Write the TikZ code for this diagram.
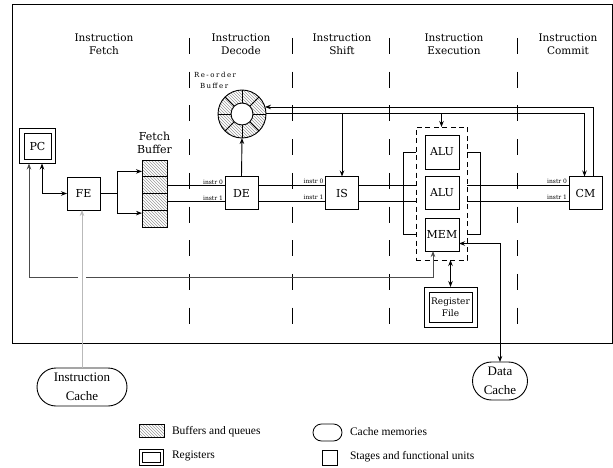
\documentclass[tikz,border=0pt]{standalone}
\usepackage{fontspec}
\setmainfont{DejaVu Serif}
\newfontfamily\legfont{Liberation Serif}
\newfontfamily\robfont[LetterSpace=22]{DejaVu Serif}
\usetikzlibrary{arrows.meta,patterns,shapes.misc,fit,calc}
\begin{document}
\begin{tikzpicture}[x=1pt,y=-1pt,
  every node/.style={inner sep=0pt, outer sep=0pt},
  box/.style={draw, line width=0.9pt, minimum width=33pt, minimum height=33pt, font=\fontsize{11}{13}\selectfont},
  ln/.style={line width=0.9pt},
  arr/.style={ln, -{Stealth[length=6pt,width=4.5pt]}},
  arrb/.style={ln, {Stealth[length=6pt,width=4.5pt]}-{Stealth[length=6pt,width=4.5pt]}},
  stage/.style={font=\fontsize{10.5}{13}\selectfont, align=center},
  sepline/.style={line width=1pt, dash pattern=on 16pt off 17.7pt},
  lbl/.style={font=\fontsize{6}{7}\selectfont, anchor=south east},
  hatch/.style={pattern=north west lines, pattern color=black!40},
  cache/.style={draw, rounded rectangle, line width=0.9pt, font=\legfont\fontsize{13}{19}\selectfont, align=center},
  legtext/.style={anchor=west, font=\legfont\fontsize{11.5}{13}\selectfont},
]
\useasboundingbox (0,0) rectangle (613,468);
\draw[line width=1pt] (12,4.5) rectangle (612.5,343);

% stage titles
\node[stage] (tf) at (104,44.5) {Instruction\\Fetch};
\node[stage] (td) at (241,44.5) {Instruction\\Decode};
\node[stage] (ts) at (342,44.5) {Instruction\\Shift};
\node[stage] (te) at (454,44.5) {Instruction\\Execution};
\node[stage] (tc) at (568,44.5) {Instruction\\Commit};

% separators
\foreach \x in {189,292,389,517} \draw[sepline] (\x,38) -- (\x,325);

% PC
\node[box, minimum width=27pt, minimum height=26pt] (PC) at (37.5,146) {PC};
\node[draw, line width=0.9pt, fit=(PC), inner sep=4.5pt] (PCo) {};

% FE
\node[box] (FE) at (83.5,193.5) {FE};

% fetch buffer
\node[draw, hatch, line width=0.9pt, minimum width=25pt, minimum height=16.75pt] (fb1) at (154.5,168.4) {};
\node[draw, hatch, line width=0.9pt, minimum width=25pt, minimum height=16.75pt] (fb2) at (154.5,185.1) {};
\node[draw, hatch, line width=0.9pt, minimum width=25pt, minimum height=16.75pt] (fb3) at (154.5,201.9) {};
\node[draw, hatch, line width=0.9pt, minimum width=25pt, minimum height=16.75pt] (fb4) at (154.5,218.6) {};
\node[stage, font=\fontsize{11}{13}\selectfont] (fbt) at (154.5,142.5) {Fetch\\Buffer};

% stages
\node[box] (DE) at (241.5,193) {DE};
\node[box] (IS) at (342,193) {IS};
\node[box] (CM) at (585.5,193) {CM};

% execution
\node[draw, line width=0.9pt, dash pattern=on 5pt off 3.5pt, minimum width=51pt, minimum height=133pt] (exec) at (441.5,193.5) {};
\node[box, minimum width=34pt, minimum height=34pt] (ALU1) at (442,152) {ALU};
\node[box, minimum width=34pt, minimum height=33pt] (ALU2) at (442,192.5) {ALU};
\node[box, minimum width=34pt, minimum height=33pt] (MEM) at (442,234.5) {MEM};

% register file
\node[box, minimum width=43pt, minimum height=30pt, font=\fontsize{9}{12}\selectfont, align=center] (RF) at (450.5,307) {Register\\File};
\node[draw, line width=0.9pt, fit=(RF), inner sep=5pt] (RFo) {};

% re-order buffer
\node[circle, minimum size=48pt] (rob) at (242,114) {};
\fill[hatch, even odd rule] (rob.center) circle[radius=24pt] (rob.center) circle[radius=11pt];
\draw[ln] (rob.center) circle[radius=24pt];
\draw[ln] (rob.center) circle[radius=11pt];
\foreach \a in {0,45,...,315} \draw[ln] ($(rob.center)+(\a:11pt)$) -- ($(rob.center)+(\a:24pt)$);
\node[anchor=west, font=\robfont\fontsize{7}{9}\selectfont] (robt1) at (194,75) {Re-order};
\node[anchor=west, font=\robfont\fontsize{7}{9}\selectfont] (robt2) at (200,86) {Buffer};

% caches
\node[cache, minimum width=90pt, minimum height=38pt] (IC) at (82,387) {Instruction\\Cache};
\node[cache, minimum width=55pt, minimum height=38pt] (DC) at (500,381) {Data\\Cache};

% connectors
\draw[arrb] ([xshift=4.5pt]PCo.south) |- (FE.west);
\draw[ln] (FE.east) -- ++(17,0) coordinate (split);
\draw[arr] (split) |- ([yshift=-3pt]fb1.west);
\draw[arr] (split) |- ([yshift=5.5pt]fb4.west);

\draw[ln] (fb2.east) -- (fb2.east -| DE.west);
\draw[ln] (fb3.east) -- (fb3.east -| DE.west);
\node[lbl] (l1) at ([xshift=-2pt,yshift=1pt]fb2.east -| DE.west) {instr 0};
\node[lbl] (l2) at ([xshift=-2pt,yshift=1pt]fb3.east -| DE.west) {instr 1};

\draw[ln] ([yshift=8pt]DE.east) -- ([yshift=8pt]DE.east -| IS.west);
\draw[ln] ([yshift=-8pt]DE.east) -- ([yshift=-8pt]DE.east -| IS.west);
\node[lbl] (l3) at ([xshift=-2pt,yshift=9pt]IS.west) {instr 0};
\node[lbl] (l4) at ([xshift=-2pt,yshift=-7pt]IS.west) {instr 1};

\draw[ln] ([yshift=8pt]IS.east) -- ([yshift=8pt]IS.east -| exec.west);
\draw[ln] ([yshift=-8pt]IS.east) -- ([yshift=-8pt]IS.east -| exec.west);

\draw[ln] ([yshift=8pt]CM.west -| exec.east) -- ([yshift=8pt]CM.west);
\draw[ln] ([yshift=-8pt]CM.west -| exec.east) -- ([yshift=-8pt]CM.west);
\node[lbl] (l5) at ([xshift=-2pt,yshift=9pt]CM.west) {instr 0};
\node[lbl] (l6) at ([xshift=-2pt,yshift=-7pt]CM.west) {instr 1};

\draw[ln] (exec.west |- ALU1) -- ++(-13,0) |- (exec.west |- MEM);
\draw[ln] (exec.east |- ALU1) -- ++(13,0) |- (exec.east |- MEM);

\draw[arr] (DE.north) -- (rob.south);
\draw[arr] ([xshift=8pt]CM.north) |- (rob.17);
\draw[arr] (rob.2) -| ([xshift=-1pt]CM.north);
\draw[arr] (IS.north |- rob.2) -- (IS.north);
\draw[arr] (exec.north |- rob.2) -- (exec.north);

\coordinate (gr) at (86,277);
\coordinate (gl) at (78,277);
\coordinate (bl) at (29,277);
\draw[arr, draw=black!70] (gr) -| ([xshift=-9pt]MEM.south);
\draw[arr, draw=black!70] (gl) -- (bl) -- (bl |- PCo.south);
\draw[arr, draw=gray!55] (IC.north) -- (IC.north |- FE.south);
\draw[arrb] ([yshift=-9pt]MEM.east) -| (DC.north);
\draw[arrb] (exec.south -| RFo.north) -- (RFo.north);

% legend
\node[draw, hatch, line width=0.6pt, minimum width=25pt, minimum height=13pt] (lg1) at (151.5,430.5) {};
\node[legtext] (lt1) at (172,432) {Buffers and queues};
\node[draw, line width=0.8pt, minimum width=18pt, minimum height=10pt] (lg2in) at (151.5,457) {};
\node[draw, line width=0.8pt, fit=(lg2in), inner sep=3pt] (lg2) {};
\node[legtext] (lt2) at (172,456) {Registers};
\node[draw, rounded rectangle, line width=0.8pt, minimum width=29pt, minimum height=17pt] (lg3) at (327.5,432.5) {};
\node[legtext] (lt3) at (350,432) {Cache memories};
\node[draw, line width=0.8pt, minimum width=15pt, minimum height=15pt] (lg4) at (329.5,457.5) {};
\node[legtext] (lt4) at (350,457) {Stages and functional units};
\end{tikzpicture}
\end{document}
